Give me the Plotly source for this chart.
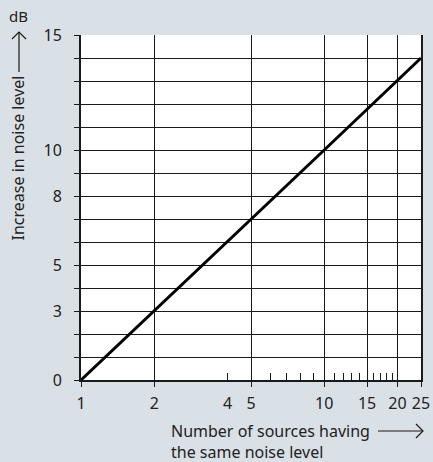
import plotly.graph_objects as go

# data
sources = [1, 2, 5, 10, 25]
increase_db = [0, 3, 7, 10, 14]

x_major = [1, 2, 5, 10, 15, 20, 25]
x_major_text = ["1", "2", "5", "10", "15", "20", "25"]
x_minor = [4, 6, 7, 8, 9, 11, 12, 13, 14, 16, 17, 18, 19]
y_ticks = list(range(0, 16))
y_labels = {0: "0", 3: "3", 5: "5", 8: "8", 10: "10", 15: "15"}
y_ticktext = [y_labels.get(v, "") for v in y_ticks]

FONT = "Noto Sans"
INK = "#1a1a1a"
BG = "#d9e0e6"
W, H = 433, 462
ML, MR, MT, MB = 81, 12, 35, 82
PW, PH = W - ML - MR, H - MT - MB


def px(x):
    return (x - ML) / PW


def py(y):
    return 1 - (y - MT) / PH


fig = go.Figure()
fig.add_trace(go.Scatter(x=sources, y=increase_db, mode="lines",
                         line=dict(color="#000000", width=3), hoverinfo="skip"))

fig.update_layout(
    width=W, height=H,
    margin=dict(l=ML, r=MR, t=MT, b=MB, autoexpand=False),
    paper_bgcolor=BG, plot_bgcolor="#ffffff",
    showlegend=False,
    font=dict(family=FONT, size=16, color="#222222"),
    xaxis=dict(
        type="log", range=[0, 1.39794], automargin=False,
        tickvals=x_major, ticktext=x_major_text,
        ticks="outside", ticklen=5, tickwidth=1, tickcolor=INK,
        ticklabelstandoff=3,
        showgrid=True, gridcolor=INK, gridwidth=1,
        showline=True, linecolor=INK, linewidth=2,
        zeroline=False,
        minor=dict(tickvals=x_minor, ticks="inside", ticklen=7,
                   tickwidth=1, tickcolor=INK, showgrid=False),
    ),
    yaxis=dict(
        range=[0, 15], automargin=False,
        tickvals=y_ticks, ticktext=y_ticktext,
        ticks="outside", ticklen=5, tickwidth=1, tickcolor=INK,
        ticklabelstandoff=9,
        showgrid=True, gridcolor=INK, gridwidth=1,
        showline=True, linecolor=INK, linewidth=2, mirror=True,
        zeroline=False,
    ),
)

fig.add_annotation(x=0.60206, y=0, xref="x", yref="y", text="4",
                   showarrow=False, yshift=-23, font=dict(size=16, family=FONT))
fig.add_annotation(x=px(18), y=py(16), xref="paper", yref="paper",
                   xanchor="center", yanchor="middle",
                   text="dB", showarrow=False, font=dict(size=15, family=FONT))
fig.add_annotation(x=px(17.5), y=py(158), xref="paper", yref="paper",
                   xanchor="center", yanchor="middle",
                   text="Increase in noise level", textangle=-90,
                   showarrow=False, font=dict(size=16, family=FONT))
fig.add_annotation(x=px(169), y=py(431), xref="paper", yref="paper",
                   xanchor="left", yanchor="middle",
                   text="Number of sources having", showarrow=False,
                   font=dict(size=16, family=FONT))
fig.add_annotation(x=px(169), y=py(452), xref="paper", yref="paper",
                   xanchor="left", yanchor="middle",
                   text="the same noise level", showarrow=False,
                   font=dict(size=16, family=FONT))

# decorative arrows next to the axis titles
arrow_style = dict(color=INK, width=1.2)
# vertical arrow (y title)
fig.add_shape(type="line", xref="paper", yref="paper",
              x0=px(19), x1=px(19), y0=py(72), y1=py(32), line=arrow_style)
fig.add_shape(type="path", xref="paper", yref="paper",
              path=f"M {px(12)},{py(39)} L {px(19)},{py(32)} L {px(26)},{py(39)}",
              line=arrow_style)
# horizontal arrow (x title)
fig.add_shape(type="line", xref="paper", yref="paper",
              x0=px(378), x1=px(423), y0=py(431), y1=py(431), line=arrow_style)
fig.add_shape(type="path", xref="paper", yref="paper",
              path=f"M {px(416)},{py(424)} L {px(423)},{py(431)} L {px(416)},{py(438)}",
              line=arrow_style)

fig.write_html("out.html", config={"displayModeBar": False},
               post_script="document.body.style.margin='0';")
